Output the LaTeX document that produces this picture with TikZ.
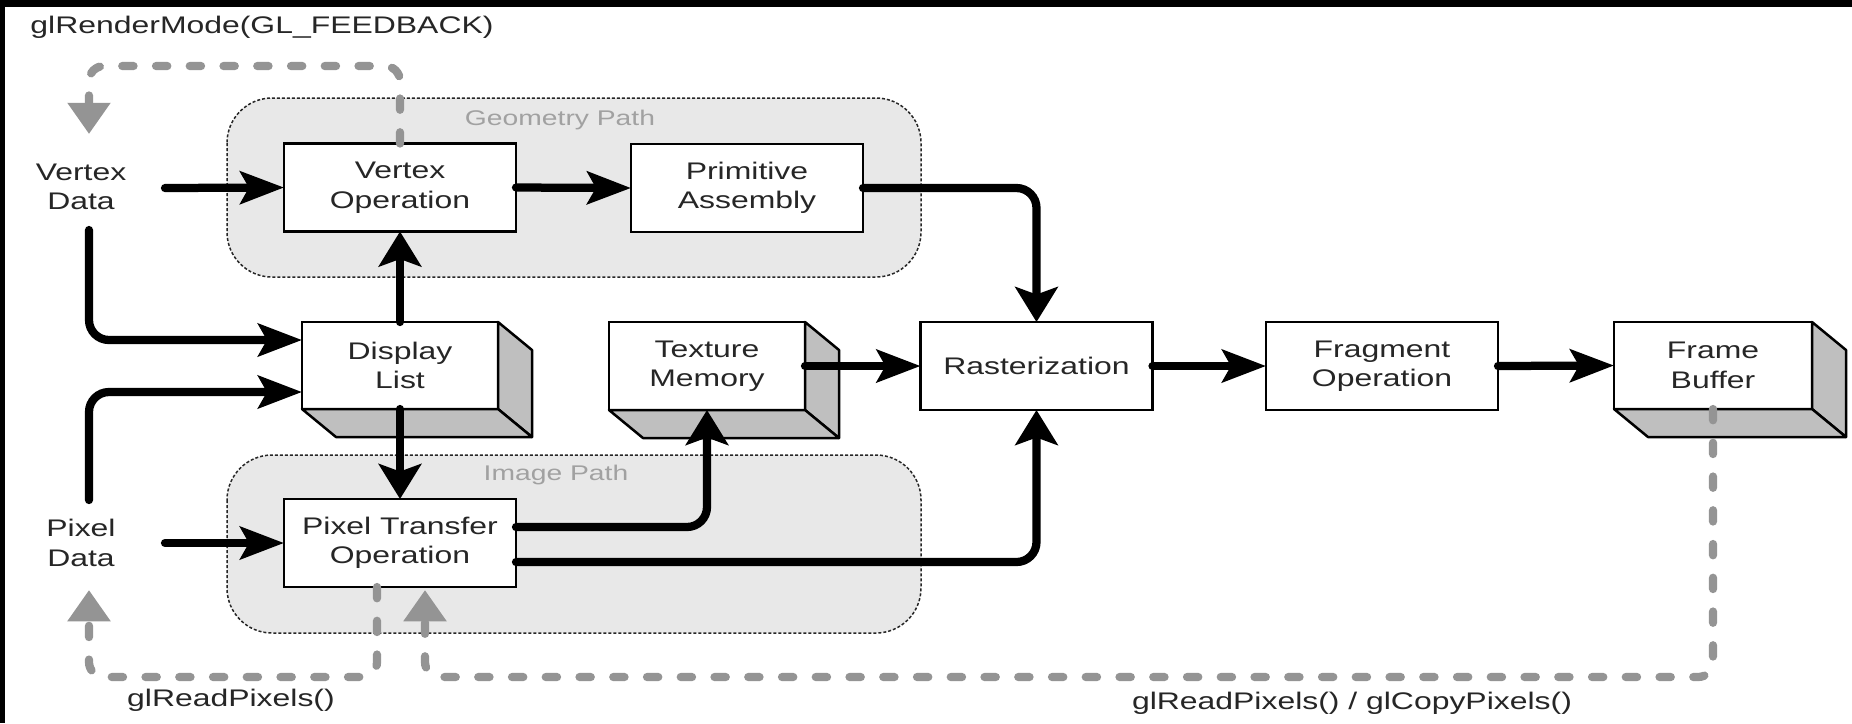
\documentclass[tikz,border=0pt]{standalone}
\usepackage{fontspec}
\setmainfont[FakeStretch=1.33]{Liberation Sans}
\usetikzlibrary{arrows.meta,calc}
\newcommand\depthfaces[3]{%
  \draw[depth] (#1.north east) -- ++(34,28) -- ++(0,#3) -- (#1.south east) -- cycle;
  \draw[depth] (#1.south west) -- ++(34,28) -- ++(#2,0) -- (#1.south east) -- cycle;}
\begin{document}
\begin{tikzpicture}[x=0.4pt,y=-0.4pt,
  font=\fontsize{9.6}{11.8}\selectfont,
  box/.style={draw=black,line width=1pt,fill=white,inner sep=0pt,outer sep=0pt,align=center,minimum height=35.2pt,text=black!85},
  wbox/.style={box,minimum width=92.8pt},
  nbox/.style={box,minimum width=78.4pt},
  depth/.style={draw=black,line width=1pt,fill=black!25,line join=round},
  region/.style={fill=black!9,draw=black!85,line width=0.6pt,dash pattern=on 1.2pt off 0.8pt,rounded corners=18pt},
  rlabel/.style={text=black!37,inner sep=0pt,font=\fontsize{8.5}{10}\selectfont},
  lbl/.style={align=center,inner sep=0pt,text=black!85},
  harrow/.style={line width=3.3pt,line cap=round,rounded corners=8pt,-{Stealth[length=17.5pt,width=13pt,inset=3.5pt]}},
  varrow/.style={line width=3.3pt,line cap=round,rounded corners=8pt,-{Stealth[length=14pt,width=17pt,inset=3pt]}},
  gdash/.style={draw=black!42,line width=3.3pt,line cap=round,rounded corners=6pt,dash pattern=on 4.5pt off 9pt,-{Triangle[length=12.5pt,width=16.5pt]}},
]
\useasboundingbox (0,0) rectangle (1852,723);
\fill[white] (0,0) rectangle (1852,723);
\fill[black] (0,0) rectangle (1852,7);
\fill[black] (0,0) rectangle (5,723);

% path regions
\path[region] (227,98) rectangle (921,277);
\path[region] (227,455) rectangle (921,633);
\node[rlabel] (geolbl) at (560,120) {Geometry Path};
\node[rlabel] (imglbl) at (556,475) {Image Path};

% boxes
\node[wbox] (vo) at (400,187.5) {Vertex\\Operation};
\node[wbox] (pa) at (747,188) {Primitive\\Assembly};
\node[nbox,minimum height=34.8pt] (dl) at (400,365.5) {Display\\List};
\node[nbox] (tm) at (707,366) {Texture\\Memory};
\node[wbox] (rast) at (1036.5,366) {Rasterization};
\node[wbox] (frag) at (1382,366) {Fragment\\Operation};
\node[nbox,minimum width=79.2pt,minimum height=34.8pt] (fb) at (1713,365.5) {Frame\\Buffer};
\node[wbox] (pto) at (400,543) {Pixel Transfer\\Operation};
\depthfaces{dl}{196}{87}
\depthfaces{tm}{196}{88}
\depthfaces{fb}{198}{87}

% free text
\node[lbl] (vd) at (81,187) {Vertex\\Data};
\node[lbl] (pd) at (81,543) {Pixel\\Data};
\node[lbl,anchor=west] (rm) at (30,27) {glRenderMode(GL\_FEEDBACK)};
\node[lbl] (rp) at (231,700) {glReadPixels()};
\node[lbl] (cp) at (1352,703) {glReadPixels() / glCopyPixels()};

% connector ends
\coordinate (vdout) at (165,188);
\coordinate (pdout) at (165,543);
\coordinate (vddown) at (89,230);
\coordinate (pdup) at (89,500);
\coordinate (fbtop) at (89,66);
\coordinate (vdtop) at (89,134);
\coordinate (rpB) at (89,677);
\coordinate (pdbot) at (89,590);
\coordinate (cpB) at (425,677);

% black data flow
\draw[harrow] (vdout) -- (vo.west);
\draw[harrow] (vo.east) -- (pa.west);
\draw[varrow] (pa.east) -| (rast.north);
\draw[harrow] (vddown) |- ($(dl.west)+(0,-25.5)$);
\draw[harrow] (pdup) |- ($(dl.west)+(0,26.5)$);
\draw[varrow] (dl.north) -- (vo.south);
\draw[varrow] (dl.south) -- (pto.north);
\draw[harrow] (pdout) -- (pto.west);
\draw[varrow] ($(pto.east)+(0,-16)$) -| (tm.south);
\draw[varrow] ($(pto.east)+(0,19)$) -| (rast.south);
\draw[harrow] (tm.east) -- (rast.west);
\draw[harrow] (rast.east) -- (frag.west);
\draw[harrow] (frag.east) -- (fb.west);

% gray feedback paths
\draw[gdash] (vo.north) |- (fbtop) -- (vdtop);
\draw[gdash] ($(pto.south)+(-23,0)$) |- (rpB) -- (pdbot);
\draw[gdash] (fb.south) |- (cpB) -- ($(pto.south)+(25,3)$);
\end{tikzpicture}
\end{document}
